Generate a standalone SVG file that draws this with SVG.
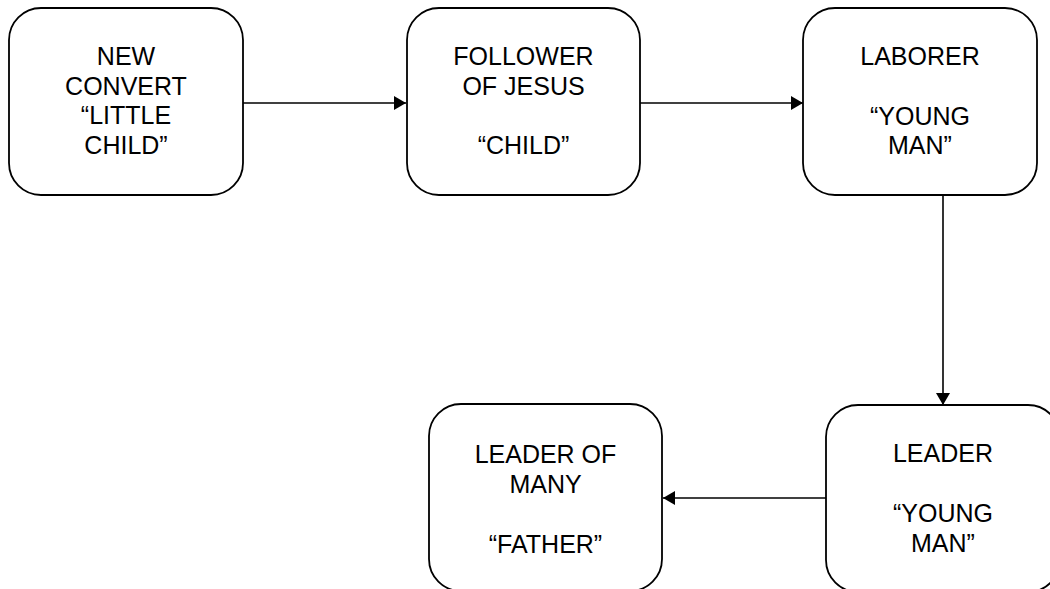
<svg xmlns="http://www.w3.org/2000/svg" width="1050" height="589" viewBox="0 0 1050 589">
<style>
.box{fill:#fff;stroke:#000;stroke-width:1.8}
.t{font-family:"Liberation Sans",Arial,sans-serif;font-size:25px;fill:#000;text-anchor:middle}
.c{stroke:#000;stroke-width:1.6;fill:none}
</style>
<defs>
<marker id="ah" viewBox="0 0 12 14" refX="12" refY="7" markerWidth="12" markerHeight="14" markerUnits="userSpaceOnUse" orient="auto">
<path d="M0,0 L12,7 L0,14 Z" fill="#000"/>
</marker>
</defs>
<rect width="1050" height="589" fill="#fff"/>
<g id="connectors">
<line class="c" x1="243" y1="103" x2="406" y2="103" marker-end="url(#ah)"/>
<line class="c" x1="640" y1="103" x2="803" y2="103" marker-end="url(#ah)"/>
<line class="c" x1="943" y1="195" x2="943" y2="405" marker-end="url(#ah)"/>
<line class="c" x1="826" y1="498" x2="663" y2="498" marker-end="url(#ah)"/>
</g>
<g id="n1">
<rect class="box" x="9" y="8" width="234" height="187" rx="32"/>
<text class="t" x="126" y="65">NEW</text>
<text class="t" x="126" y="95">CONVERT</text>
<text class="t" x="126" y="124">“LITTLE</text>
<text class="t" x="126" y="154">CHILD”</text>
</g>
<g id="n2">
<rect class="box" x="407" y="8" width="233" height="187" rx="32"/>
<text class="t" x="523.5" y="65">FOLLOWER</text>
<text class="t" x="523.5" y="95">OF JESUS</text>
<text class="t" x="523.5" y="154">“CHILD”</text>
</g>
<g id="n3">
<rect class="box" x="803" y="8" width="234" height="187" rx="32"/>
<text class="t" x="920" y="65">LABORER</text>
<text class="t" x="920" y="125">“YOUNG</text>
<text class="t" x="920" y="154">MAN”</text>
</g>
<g id="n4">
<rect class="box" x="826" y="405" width="234" height="187" rx="32"/>
<text class="t" x="943" y="462">LEADER</text>
<text class="t" x="943" y="522">“YOUNG</text>
<text class="t" x="943" y="552">MAN”</text>
</g>
<g id="n5">
<rect class="box" x="429" y="404" width="233" height="187" rx="32"/>
<text class="t" x="545.5" y="463">LEADER OF</text>
<text class="t" x="545.5" y="493">MANY</text>
<text class="t" x="545.5" y="553">“FATHER”</text>
</g>
</svg>
